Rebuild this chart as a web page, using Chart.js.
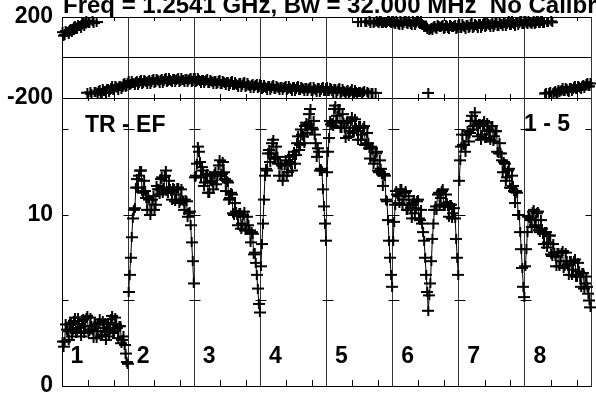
<!DOCTYPE html>
<html><head><meta charset="utf-8">
<script src="https://cdn.jsdelivr.net/npm/chart.js@4/dist/chart.umd.min.js"></script>
<style>
html,body{margin:0;padding:0;background:#fff;}
#wrap{position:relative;width:596px;height:394px;overflow:hidden;background:#fff;}
canvas{position:absolute;left:0;top:0;}
</style></head><body>
<div id="wrap"><canvas id="ph" width="596" height="394"></canvas><canvas id="am" width="596" height="394"></canvas></div>
<script>
// ---- data ----
const titleText = 'Freq = 1.2541 GHz, Bw = 32.000 MHz  No Calibration';
const baselineLabel = 'TR - EF';
const stokesLabel = '1 - 5';
const ifLabels = ['1','2','3','4','5','6','7','8'];
const channelsPerIF = 64;
const oddChannels = [1,3,5,7,9,11,13,15,17,19,21,23,25,27,29,31,33,35,37,39,41,43,45,47,49,51,53,55,57,59,61,63];
const evenChannels = [2,4,6,8,10,12,14,16,18,20,22,24,26,28,30,32,34,36,38,40,42,44,46,48,50,52,54,56,58,60,62,64];
const minorTickChannels = [25, 50];
const phaseTicks = [-200, 0, 200];
const phaseTickLabels = ['-200', '', '200'];
const ampTicks = [0, 10];
const ampTickLabels = ['0', '10'];
const ampMinorTicks = [5, 10, 15];
const phaseMin = -200, phaseMax = 200;
const ampMin = 0, ampMax = 16.84;

// amplitude, odd channels (a) and even channels (b), per IF
const amp1a = [2.6,2.6,3.3,2.7,3.7,3.3,4.0,3.2,3.6,2.9,3.9,3.5,4.1,3.2,3.5,2.8,3.6,3.2,3.9,3.0,3.4,2.7,3.7,3.3,4.1,3.2,3.6,2.8,3.5,2.7,2.4,1.4];
const amp1b = [2.3,3.6,3.2,3.6,2.9,3.8,3.1,4.0,3.4,3.8,3.1,4.0,3.1,4.0,3.3,3.6,2.8,3.7,2.9,3.8,3.2,3.6,2.9,3.9,3.1,4.0,3.4,3.5,2.5,2.9,1.9,1.3];
const amp2a = [5.5,7.5,9.8,10.4,12.1,12.3,12.6,11.3,11.4,10.3,10.9,10.3,11.1,10.6,11.5,11.2,12.2,11.6,12.6,11.3,11.5,10.9,11.5,11.2,11.6,10.8,10.9,10.3,10.8,10.1,9.4,7.3];
const amp2b = [6.5,8.7,10.3,11.6,11.6,12.6,11.4,12.0,11.0,11.0,10.0,10.9,10.3,11.7,11.5,12.1,11.3,12.3,11.4,12.0,11.4,11.6,10.8,11.6,10.7,11.5,10.8,10.9,9.9,10.2,8.4,6.0];
const amp3a = [12.2,13.0,13.7,12.2,12.6,11.9,12.4,11.3,12.0,11.5,12.5,12.3,13.2,12.4,12.5,11.4,11.9,11.0,11.2,10.0,10.2,9.4,10.1,9.5,10.2,9.1,9.4,8.4,8.9,7.8,6.5,4.8];
const amp3b = [12.3,14.0,13.1,12.8,11.7,12.3,11.3,12.3,11.9,12.4,11.8,12.9,12.3,13.1,12.1,12.0,10.9,11.3,10.1,10.7,10.0,10.1,9.2,10.0,9.1,9.9,9.1,9.0,7.7,7.2,5.7,4.3];
const amp4a = [7.0,9.5,12.3,12.6,13.8,13.6,14.4,13.3,13.4,12.3,12.9,12.3,13.2,12.5,13.1,12.6,13.7,13.5,14.6,14.1,14.7,14.2,15.4,15.3,16.2,15.0,14.7,13.4,13.7,12.7,11.5,9.5];
const amp4b = [8.3,10.9,12.7,13.6,13.1,14.2,13.3,14.0,13.0,13.0,12.0,12.9,12.3,13.4,13.0,13.5,13.0,14.2,13.8,15.0,14.6,15.2,14.8,15.9,15.1,15.5,14.2,13.9,12.6,12.6,10.5,8.5];
const amp5a = [12.5,14.5,15.3,15.2,16.4,15.8,16.2,15.1,15.4,14.5,15.5,14.9,15.7,14.9,15.1,14.4,15.2,14.7,15.2,14.1,14.2,13.3,13.9,13.2,13.7,12.5,12.7,11.7,12.3,10.8,8.5,6.5];
const amp5b = [13.7,15.5,15.4,16.2,15.5,16.2,15.1,15.9,15.1,15.4,14.6,15.5,14.8,15.6,14.9,15.2,14.4,15.1,14.1,14.8,13.9,14.0,13.0,13.6,12.6,13.2,12.4,12.4,10.9,9.7,7.5,5.8];
const amp6a = [8.5,10.6,11.2,10.7,11.5,10.9,11.4,10.3,10.6,9.8,10.9,10.4,10.9,9.7,9.5,8.5,6.5,4.4,6.0,8.6,10.3,10.3,11.3,11.0,11.5,10.5,10.7,9.9,10.6,10.1,9.8,7.5];
const amp6b = [9.6,11.4,11.1,11.5,10.6,11.3,10.3,11.1,10.4,10.7,10.1,10.8,9.8,10.3,9.0,7.5,5.5,5.3,7.3,9.5,10.5,11.2,10.6,11.4,10.5,11.2,10.5,10.6,9.8,10.4,8.6,6.5];
const amp7a = [12.0,14.0,14.1,13.7,14.9,14.8,15.8,15.2,15.5,14.6,15.3,14.7,15.5,14.5,15.0,14.4,15.2,14.6,14.9,13.6,13.6,12.5,13.0,12.2,12.7,11.6,11.7,10.7,11.3,10.0,8.0,5.8];
const amp7b = [13.2,14.7,14.1,14.7,14.3,15.5,15.0,16.0,15.2,15.3,14.4,15.3,14.5,15.4,14.9,15.2,14.3,14.9,13.7,14.2,13.2,13.1,12.0,12.6,11.6,12.3,11.4,11.4,10.0,9.0,6.9,5.2];
const amp8a = [7.0,9.0,9.8,9.3,10.3,9.7,10.2,9.0,9.2,8.3,9.0,8.4,8.8,7.6,7.8,7.0,7.8,7.3,7.9,7.0,7.3,6.5,7.3,6.8,7.4,6.4,6.7,5.8,6.6,6.0,5.8,5.0];
const amp8b = [8.0,9.9,9.7,10.2,9.4,10.1,9.1,9.7,8.9,9.0,8.1,8.8,7.7,8.3,7.6,7.8,7.0,7.8,6.9,7.8,7.1,7.3,6.5,7.3,6.4,7.2,6.4,6.6,5.7,6.4,5.4,4.6];

// phase (degrees), odd channels (a) and even channels (b), per IF
const ph1a = [125,112,125,116,140,137,156,143,157,148,171,168,-174,171,-179,170,-170,-175,-159,-174,-164,-175,-155,-160,-143,-158,-148,-159,-139,-144,-127,-142];
const ph1b = [108,131,124,136,126,149,139,162,156,168,157,179,168,-172,179,-172,175,-165,-177,-157,-166,-157,-170,-149,-161,-141,-150,-141,-154,-133,-145,-124];
const ph2a = [-116,-133,-124,-137,-118,-125,-110,-127,-118,-131,-112,-119,-104,-121,-112,-126,-107,-115,-100,-118,-110,-123,-105,-113,-99,-117,-109,-123,-105,-113,-99,-117];
const ph2b = [-136,-117,-128,-120,-135,-116,-130,-111,-122,-114,-129,-110,-124,-105,-116,-109,-124,-106,-120,-102,-114,-106,-122,-104,-119,-101,-113,-106,-122,-104,-119,-101];
const ph3a = [-99,-118,-111,-126,-109,-118,-105,-124,-117,-132,-115,-124,-111,-130,-123,-138,-121,-130,-117,-136,-129,-144,-127,-136,-123,-142,-135,-150,-133,-142,-129,-148];
const ph3b = [-120,-103,-116,-110,-127,-110,-126,-109,-122,-116,-133,-116,-132,-115,-128,-122,-139,-122,-138,-121,-134,-128,-145,-128,-144,-127,-140,-134,-151,-134,-150,-133];
const ph4a = [-134,-152,-145,-159,-142,-150,-137,-155,-148,-162,-145,-153,-139,-158,-150,-165,-147,-156,-142,-161,-153,-167,-150,-158,-145,-163,-156,-170,-153,-161,-148,-166];
const ph4b = [-154,-137,-149,-142,-159,-141,-157,-139,-152,-145,-162,-144,-159,-142,-154,-148,-164,-147,-162,-145,-157,-150,-167,-149,-165,-147,-160,-153,-170,-152,-167,-150];
const ph5a = [-146,-165,-158,-173,-156,-165,-152,-171,-164,-179,-162,-171,-158,-177,-170,175,-168,-177,-164,177,-176,169,-174,177,178,172,180,168,176,174,179,171];
const ph5b = [-167,-150,-163,-157,-174,-157,-173,-156,-169,-163,-180,-163,-179,-162,-175,-169,175,-169,176,-168,179,-175,169,-175,173,179,170,177,172,180,174,178];
const ph6a = [179,164,174,160,177,169,179,164,174,160,177,169,179,164,167,150,150,-175,140,137,154,140,157,149,159,144,154,140,157,149,159,144];
const ph6b = [170,180,166,178,161,179,170,180,166,178,161,179,168,178,160,155,142,135,146,150,144,162,150,157,141,159,144,162,150,157,141,159];
const ph7a = [164,147,155,142,161,153,168,151,159,146,164,157,172,154,163,150,168,161,176,158,167,154,172,165,180,162,171,158,176,169,180,166];
const ph7b = [144,163,152,159,144,163,148,167,156,163,148,167,152,171,159,167,152,170,156,175,163,171,156,174,160,179,167,175,160,178,164,180];
const ph8a = [178,166,176,163,180,171,179,172,178,168,-176,177,-172,174,-170,-178,-162,-167,-151,-167,-157,-169,-149,-155,-139,-155,-145,-157,-137,-143,-127,-142];
const ph8b = [170,179,168,177,165,180,172,178,170,-178,175,-174,179,-175,-167,-173,-170,-159,-163,-153,-163,-152,-163,-144,-154,-140,-151,-140,-151,-132,-143,-128];

const ampSeries = [[amp1a,amp1b],[amp2a,amp2b],[amp3a,amp3b],[amp4a,amp4b],[amp5a,amp5b],[amp6a,amp6b],[amp7a,amp7b],[amp8a,amp8b]];
const phaseSeries = [[ph1a,ph1b],[ph2a,ph2b],[ph3a,ph3b],[ph4a,ph4b],[ph5a,ph5b],[ph6a,ph6b],[ph7a,ph7b],[ph8a,ph8b]];

// ---- styling ----
const FONT = "'Liberation Sans', Arial, sans-serif";
const tickFont = {family: FONT, size: 23, weight: 'bold'};
const boundaries = ifLabels.map((_, p) => p * channelsPerIF).concat([ifLabels.length * channelsPerIF]);

const crossImg = (() => {
  const c = document.createElement('canvas'); c.width = 12; c.height = 10;
  const g = c.getContext('2d'); g.fillStyle = '#000';
  g.fillRect(0, 4, 12, 2); g.fillRect(5, 0, 2, 10);
  return c;
})();

function toPoints(pair, p) {
  const pts = [];
  pair[0].forEach((v, i) => pts.push({x: p * channelsPerIF + oddChannels[i] - 0.5, y: v}));
  pair[1].forEach((v, i) => pts.push({x: p * channelsPerIF + evenChannels[i] - 0.5, y: v}));
  return pts.sort((a, b) => a.x - b.x);
}

function noPad(s) { s.paddingTop = 0; s.paddingBottom = 0; s.paddingLeft = 0; s.paddingRight = 0; }

function xScaleCfg(showBorder) {
  return {
    type: 'linear', min: 0, max: ifLabels.length * channelsPerIF,
    afterBuildTicks: s => { s.ticks = boundaries.map(v => ({value: v})); },
    ticks: {display: false},
    grid: {color: '#333', lineWidth: 1, drawTicks: false},
    border: {display: showBorder, color: '#000', width: 1},
    afterFit: s => { s.height = 0; noPad(s); }
  };
}

function hline(ctx, x1, x2, y) { ctx.beginPath(); ctx.moveTo(x1, y); ctx.lineTo(x2, y); ctx.stroke(); }
function vline(ctx, x, y1, y2) { ctx.beginPath(); ctx.moveTo(x, y1); ctx.lineTo(x, y2); ctx.stroke(); }
const px = v => Math.round(v) + 0.5;

const phasePlugin = {
  id: 'phaseDecor',
  afterDraw(chart) {
    const ctx = chart.ctx, xs = chart.scales.x, a = chart.chartArea;
    ctx.save();
    ctx.strokeStyle = '#000'; ctx.lineWidth = 1;
    for (let p = 0; p < ifLabels.length; p++) {
      for (const m of minorTickChannels) {
        const x = px(xs.getPixelForValue(p * channelsPerIF + m));
        vline(ctx, x, a.top, a.top + 4);
        vline(ctx, x, a.bottom - 4, a.bottom);
      }
    }
    ctx.fillStyle = '#000';
    ctx.font = "bold 24px " + FONT;
    ctx.textBaseline = 'alphabetic';
    ctx.fillText(titleText, a.left + 1, 13);
    ctx.restore();
  }
};

const ampPlugin = {
  id: 'ampDecor',
  afterDraw(chart) {
    const ctx = chart.ctx, xs = chart.scales.x, ys = chart.scales.y, a = chart.chartArea;
    ctx.save();
    ctx.strokeStyle = '#000'; ctx.lineWidth = 1;
    for (let p = 0; p < ifLabels.length; p++) {
      for (const m of minorTickChannels) {
        const x = px(xs.getPixelForValue(p * channelsPerIF + m));
        vline(ctx, x, a.top, a.top + 3);
        vline(ctx, x, a.bottom - 6, a.bottom);
      }
    }
    for (const v of ampMinorTicks) {
      const y = px(ys.getPixelForValue(v));
      boundaries.forEach((b, i) => {
        const x = px(xs.getPixelForValue(b));
        if (i === 0) hline(ctx, x, x + 6, y);
        else if (i === boundaries.length - 1) hline(ctx, x - 6, x, y);
        else hline(ctx, x - 5, x + 6, y);
      });
    }
    ctx.fillStyle = '#000';
    ctx.font = "bold 23px " + FONT;
    ctx.textBaseline = 'alphabetic';
    ifLabels.forEach((lab, p) => {
      ctx.fillText(lab, xs.getPixelForValue(p * channelsPerIF) + 8.5, 363);
    });
    ctx.fillText(baselineLabel, 85, 131.5);
    ctx.fillText(stokesLabel, 524, 130.5);
    ctx.restore();
  }
};

const common = {
  animation: false, responsive: false, devicePixelRatio: 1, events: [],
  plugins: {legend: {display: false}, tooltip: {enabled: false}, title: {display: false}}
};

new Chart(document.getElementById('ph'), {
  type: 'scatter',
  data: {datasets: phaseSeries.map((pair, p) => ({
    data: toPoints(pair, p), showLine: false, pointStyle: crossImg, clip: false,
    borderColor: '#000', backgroundColor: '#000'
  }))},
  options: Object.assign({}, common, {
    layout: {padding: {top: 17, bottom: 296, left: 0, right: 2}},
    scales: {
      x: xScaleCfg(false),
      y: {
        min: phaseMin, max: phaseMax,
        afterBuildTicks: s => { s.ticks = phaseTicks.map(v => ({value: v})); },
        ticks: {padding: 9, font: tickFont, color: '#000', autoSkip: false,
          callback: v => phaseTickLabels[phaseTicks.indexOf(v)]},
        grid: {color: '#000', drawTicks: false},
        border: {color: '#000'},
        afterFit: s => { s.width = 62; noPad(s); }
      }
    }
  }),
  plugins: [phasePlugin]
});

new Chart(document.getElementById('am'), {
  type: 'scatter',
  data: {datasets: ampSeries.map((pair, p) => ({
    data: toPoints(pair, p), showLine: true, pointStyle: crossImg, clip: false,
    borderColor: '#000', backgroundColor: '#000', borderWidth: 1
  }))},
  options: Object.assign({}, common, {
    layout: {padding: {top: 98, bottom: 8, left: 0, right: 2}},
    scales: {
      x: xScaleCfg(true),
      y: {
        min: ampMin, max: ampMax,
        afterBuildTicks: s => { s.ticks = ampTicks.map(v => ({value: v})); },
        ticks: {padding: 9, font: tickFont, color: '#000', autoSkip: false,
          callback: v => ampTickLabels[ampTicks.indexOf(v)]},
        grid: {display: false, drawTicks: false},
        border: {color: '#000'},
        afterFit: s => { s.width = 62; noPad(s); }
      }
    }
  }),
  plugins: [ampPlugin]
});
</script>
</body></html>
